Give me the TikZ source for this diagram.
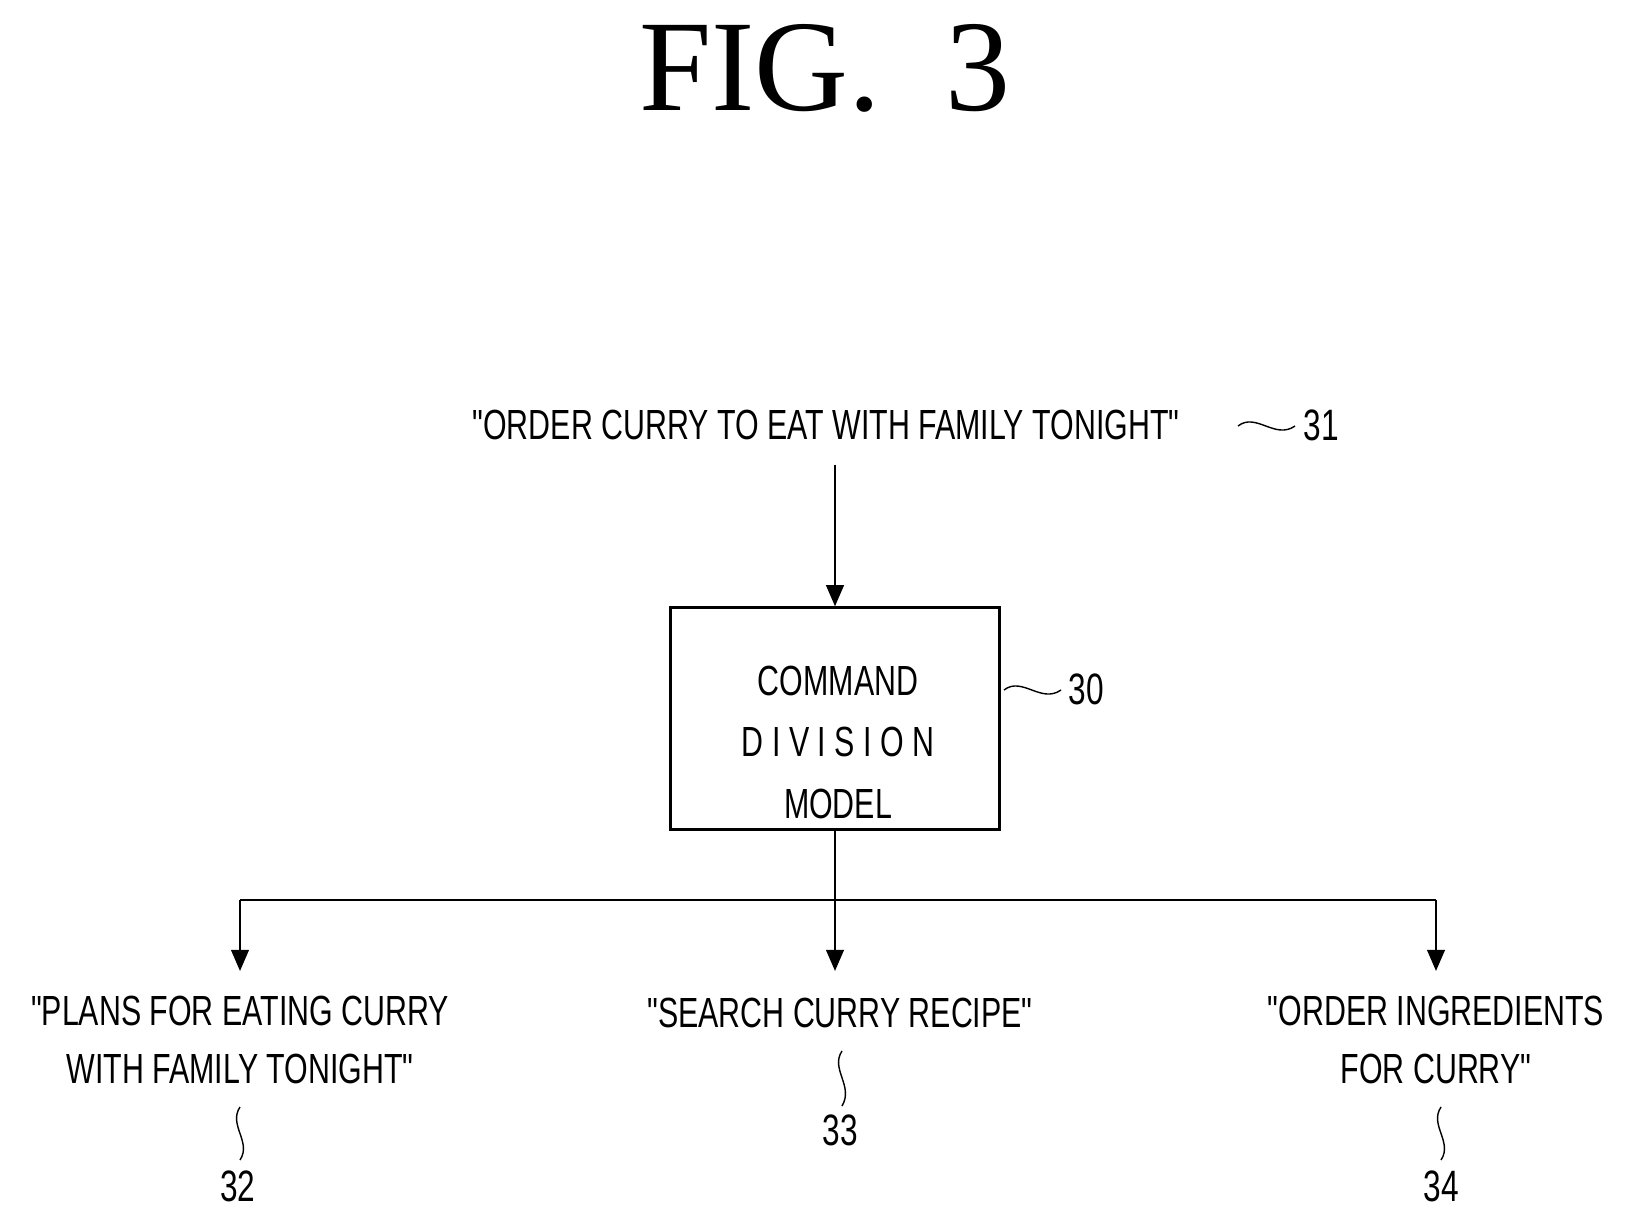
\documentclass[tikz,border=0pt]{standalone}
\usepackage{fontspec}
\setmainfont{Liberation Serif}
\newfontfamily\narrowfont[FakeStretch=0.72]{Liberation Sans}
\usetikzlibrary{shapes.geometric,arrows.meta}

\begin{document}
\begin{tikzpicture}[x=0.02cm,y=-0.02cm,
  txt/.style={font=\narrowfont\fontsize{24}{31}\selectfont,align=center,inner sep=0pt},
  ref/.style={font=\narrowfont\fontsize{25}{30}\selectfont,inner sep=0pt},
  flow/.style={line width=1.3pt,-{Triangle[length=12pt,width=10pt]}},
  leader/.style={line width=0.8pt}]
\useasboundingbox (0,0) rectangle (1629,1219);
% title
\node (fig) at (825,68) {\fontsize{74}{80}\selectfont FIG.\ \ 3};
% input command
\node[txt] (cmd) at (826,425) {"ORDER CURRY TO EAT WITH FAMILY TONIGHT"};
\node[ref] (n31) at (1321,425) {31};
\draw[leader] (1238,426) .. controls (1256,412) and (1275,440) .. (1295,426);
% model
\node[cylinder,shape border rotate=90,aspect=0.2,draw,line width=1.3pt,
  minimum width=6.58cm,minimum height=4.44cm,txt] (model) at (835,719) {};
\node[txt] (mtxt) at (838,742) {COMMAND\\[4pt]D I V I S I O N\\[4pt]MODEL};
\node[ref] (n30) at (1086,689) {30};
\draw[leader] (1004,690) .. controls (1022,676) and (1041,704) .. (1061,690);
\draw[flow] (835,465) -- (model.north);
% split
\coordinate (split) at (835,900);
\coordinate (sl) at (240,900);
\coordinate (sr) at (1436,900);
\draw[line width=1.3pt] (model.south) -- (split);
\draw[line width=1.3pt] (sl) -- (sr);
% outputs
\node[txt] (o1) at (240,1040) {"PLANS FOR EATING CURRY\\[2pt]WITH FAMILY TONIGHT"};
\node[txt] (o2) at (840,1013) {"SEARCH CURRY RECIPE"};
\node[txt] (o3) at (1436,1040) {"ORDER INGREDIENTS\\[2pt]FOR CURRY"};
\draw[flow] (sl) -- (240,971);
\draw[flow] (split) -- (835,971);
\draw[flow] (sr) -- (1436,971);
% reference numerals
\node[ref] (n32) at (238,1186) {32};
\node[ref] (n33) at (840,1130) {33};
\node[ref] (n34) at (1441,1186) {34};
\draw[leader] (240,1107) .. controls (228,1125) and (252,1142) .. (240,1160);
\draw[leader] (842,1051) .. controls (830,1069) and (854,1086) .. (842,1106);
\draw[leader] (1441,1107) .. controls (1429,1125) and (1453,1142) .. (1441,1160);
\end{tikzpicture}
\end{document}
